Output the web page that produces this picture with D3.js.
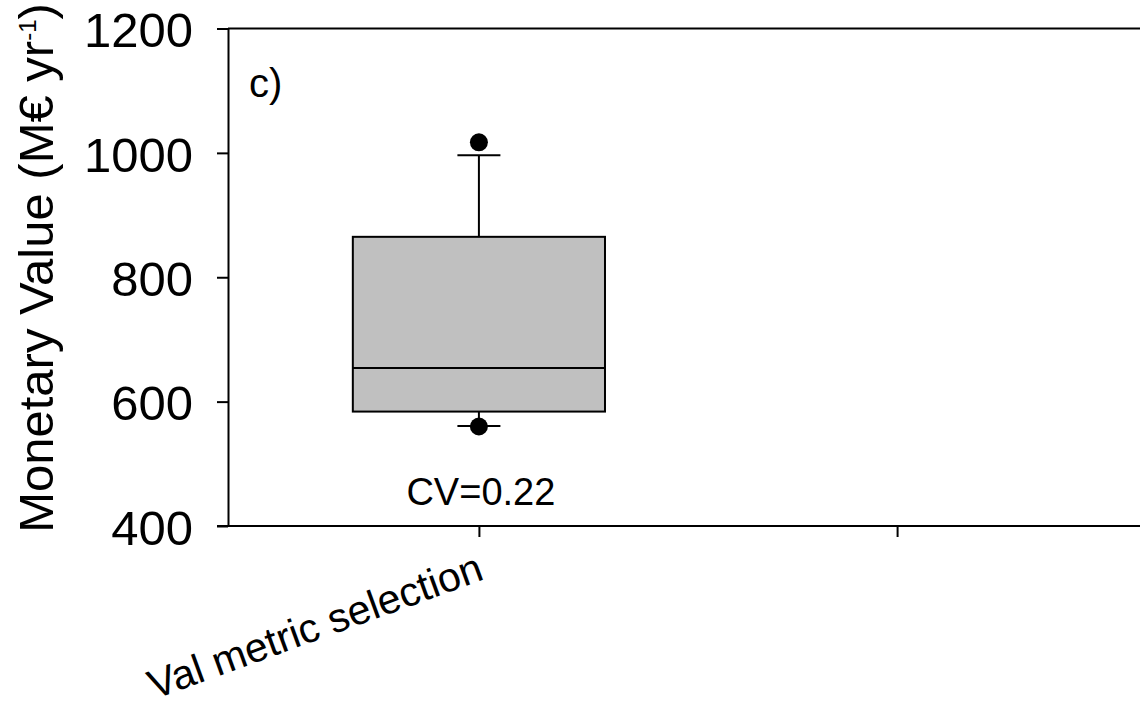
<!DOCTYPE html>
<html>
<head>
<meta charset="utf-8">
<script src="https://cdn.jsdelivr.net/npm/d3@7"></script>
<style>
  body { margin: 0; background: #fff; }
  svg { display: block; font-family: "Liberation Sans", Arial, sans-serif; }
</style>
</head>
<body>
<svg width="1140" height="711"></svg>
<script>
// chart values
const categories = ['Val metric selection', ''];
const boxCats = ['Val metric selection'];
const lowWhisker = [561];
const q1 = [584];
const median = [654];
const q3 = [865];
const highWhisker = [996];
const outliers = [[560, 1017]];
const cvLabels = ['CV=0.22'];
const yTicks = [400, 600, 800, 1000, 1200];

var svg = d3.select('svg');
var width = +svg.attr('width');
var height = +svg.attr('height');

const plotLeft = 228, plotTop = 28.5, plotBottom = 526, plotRight = 1148;

const x = d3.scalePoint()
  .domain(categories)
  .range([plotLeft, plotRight])
  .padding(0.6);

const y = d3.scaleLinear()
  .domain([400, 1200])
  .range([plotBottom, plotTop]);

const boxes = boxCats.map((c, i) => ({
  cat: c, lo: lowWhisker[i], q1: q1[i], med: median[i], q3: q3[i],
  hi: highWhisker[i], out: outliers[i], cv: cvLabels[i]
}));

const boxW = x.step() * 0.603;
const capW = 43;

// top frame line
svg.append('line')
  .attr('x1', plotLeft).attr('x2', width)
  .attr('y1', y(1200)).attr('y2', y(1200))
  .attr('stroke', '#000').attr('stroke-width', 2);

// y axis
const yAxis = svg.append('g')
  .attr('transform', `translate(${plotLeft},0)`)
  .call(d3.axisLeft(y).tickValues(yTicks).tickFormat(d3.format('d'))
    .tickSize(11).tickSizeOuter(0).tickPadding(24));
yAxis.select('.domain').attr('stroke-width', 2);
yAxis.selectAll('.tick line').attr('stroke-width', 2);
yAxis.selectAll('.tick text')
  .attr('font-size', 49)
  .attr('font-family', '"Liberation Sans", Arial, sans-serif')
  .attr('fill', '#000')
  .attr('dy', '0.37em');

// x axis
const xAxis = svg.append('g')
  .attr('transform', `translate(0,${plotBottom})`)
  .call(d3.axisBottom(x).tickSize(11).tickSizeOuter(0));
xAxis.select('.domain').attr('stroke-width', 2).attr('d', `M${plotLeft - 11},0H${width}`);
xAxis.selectAll('.tick line').attr('stroke-width', 2);
xAxis.selectAll('.tick text')
  .attr('font-size', 41)
  .attr('font-family', '"Liberation Sans", Arial, sans-serif')
  .attr('fill', '#000')
  .attr('text-anchor', 'end')
  .attr('y', 0).attr('dy', 0)
  .attr('transform', 'translate(6,53) rotate(-20)');

// boxes
const g = svg.append('g');
boxes.forEach(b => {
  const cx = x(b.cat);
  g.append('line')
    .attr('x1', cx).attr('x2', cx)
    .attr('y1', y(b.q3)).attr('y2', y(b.hi))
    .attr('stroke', '#000').attr('stroke-width', 2);
  g.append('line')
    .attr('x1', cx).attr('x2', cx)
    .attr('y1', y(b.q1)).attr('y2', y(b.lo))
    .attr('stroke', '#000').attr('stroke-width', 2);
  [b.lo, b.hi].forEach(v => {
    g.append('line')
      .attr('x1', cx - capW / 2).attr('x2', cx + capW / 2)
      .attr('y1', y(v)).attr('y2', y(v))
      .attr('stroke', '#000').attr('stroke-width', 2);
  });
  g.append('rect')
    .attr('x', cx - boxW / 2)
    .attr('y', y(b.q3))
    .attr('width', boxW)
    .attr('height', y(b.q1) - y(b.q3))
    .attr('fill', '#c0c0c0')
    .attr('stroke', '#000').attr('stroke-width', 2);
  g.append('line')
    .attr('x1', cx - boxW / 2).attr('x2', cx + boxW / 2)
    .attr('y1', y(b.med)).attr('y2', y(b.med))
    .attr('stroke', '#000').attr('stroke-width', 2);
  g.selectAll(null).data(b.out)
    .enter().append('circle')
    .attr('cx', cx).attr('cy', d => y(d))
    .attr('r', 9)
    .attr('fill', '#000');
  g.append('text')
    .attr('x', cx + 2).attr('y', 505)
    .attr('text-anchor', 'middle')
    .attr('font-size', 38)
    .text(b.cv);
});

// panel label
svg.append('text')
  .attr('x', 249).attr('y', 97)
  .attr('font-size', 40)
  .text('c)');

// y title
const yt = svg.append('text')
  .attr('transform', 'translate(53,268) rotate(-90)')
  .attr('text-anchor', 'middle')
  .attr('font-size', 49);
yt.append('tspan').text('Monetary Value (M€ yr');
yt.append('tspan').attr('font-size', 24).attr('dy', -17).text('-1');
yt.append('tspan').attr('dy', 17).text(')');
</script>
</body>
</html>
